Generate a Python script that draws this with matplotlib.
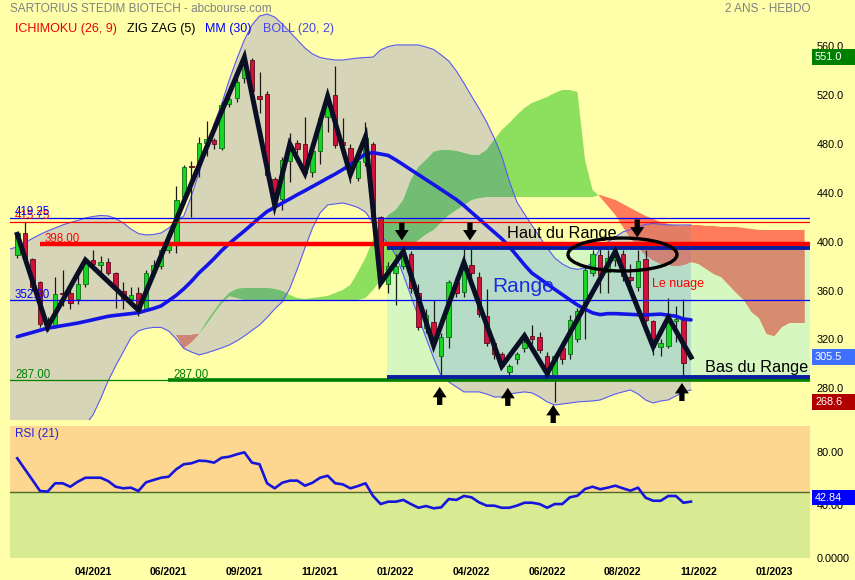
import numpy as np
import matplotlib
matplotlib.use("Agg")
import matplotlib.pyplot as plt
from matplotlib.patches import Rectangle, Ellipse
from matplotlib.transforms import blended_transform_factory

plt.rcParams['font.family'] = ['Liberation Sans', 'DejaVu Sans']

# ---- weekly candles (bar 0 = first visible week) ----
opens = [389, 407, 386, 367, 333, 330, 358, 358, 353, 365,
         385, 381, 383, 374, 360, 353, 358, 344, 375, 380,
         393, 400, 437, 462, 464, 481, 483, 477, 513, 518,
         534, 549, 519, 521, 451, 435, 466, 481, 480, 457,
         474, 502, 520, 482, 477, 452, 465, 480, 420, 365,
         374, 380, 390, 358, 329, 334, 306, 322, 367, 359,
         381, 371, 339, 317, 308, 293, 304, 313, 323, 322,
         306, 291, 313, 308, 320, 347, 374, 389, 375, 385,
         390, 371, 363, 386, 335, 314, 315, 335, 336, 305]
highs = [408, 416, 387, 368, 338, 371, 377, 363, 377, 386,
         393, 388, 387, 375, 367, 363, 363, 377, 385, 395,
         399, 446, 463, 466, 486, 499, 485, 514, 524, 535,
         551, 550, 539, 523, 453, 469, 489, 483, 502, 476,
         506, 519, 544, 501, 480, 468, 498, 482, 421, 383,
         390, 393, 392, 365, 345, 352, 325, 369, 372, 396,
         396, 375, 361, 320, 310, 300, 310, 324, 332, 326,
         310, 308, 318, 340, 346, 380, 393, 394, 393, 393,
         393, 382, 393, 393, 336, 320, 354, 347, 353, 306]
lows = [387, 386, 360, 330, 327, 329, 347, 345, 349, 363,
        377, 371, 373, 346, 345, 350, 339, 343, 372, 378,
        391, 391, 435, 420, 453, 470, 476, 475, 510, 514,
        530, 520, 505, 452, 429, 426, 449, 473, 455, 453,
        464, 490, 477, 472, 448, 450, 462, 415, 366, 358,
        348, 378, 358, 328, 325, 315, 291, 313, 355, 355,
        370, 338, 315, 304, 297, 289, 300, 310, 316, 309,
        291, 268.6, 300, 304, 318, 320, 372, 358, 358, 380,
        368, 366, 360, 334, 307, 306, 313, 318, 291, 305]
closes = [407, 387, 363, 333, 330, 357, 357, 350, 365, 384,
          382, 383, 374, 363, 353, 356, 344, 374, 381, 393,
          397, 434, 461, 461, 481, 484, 480, 512, 517, 531,
          546, 523, 517, 455, 437, 467, 476, 476, 456, 474,
          501, 512, 479, 479, 459, 466, 485, 420, 368, 380,
          380, 389, 362, 330, 340, 318, 322, 367, 358, 378,
          374, 341, 317, 308, 298, 298, 308, 318, 320, 311,
          292, 306, 304, 336, 343, 377, 390, 373, 387, 389,
          372, 369, 384, 336, 314, 317, 337, 337, 301, 305.5]

# moving average 30
mm30 = [322.2, 324.0, 325.7, 327.5, 329.2, 330.2, 331.3, 332.3, 333.4, 334.7,
        336.1, 337.5, 338.9, 339.7, 340.4, 341.1, 341.9, 343.6, 345.3, 347.4,
        351.7, 356.1, 361.4, 367.5, 374.4, 380.1, 386.2, 392.7, 398.5, 403.7,
        408.8, 414.2, 419.6, 424.7, 428.2, 431.6, 435.0, 438.5, 441.8, 445.2,
        448.6, 452.1, 455.4, 459.1, 463.0, 467.5, 471.8, 472.9, 471.8, 470.6,
        467.0, 463.0, 458.9, 454.9, 450.8, 446.8, 442.7, 438.6, 434.5, 429.6,
        424.1, 418.7, 413.2, 407.8, 402.4, 395.9, 388.5, 381.0, 374.2, 369.9,
        365.4, 361.0, 356.7, 352.4, 348.2, 344.8, 341.7, 340.3, 341.1, 341.1,
        340.8, 340.5, 340.2, 340.0, 340.4, 340.7, 339.8, 339.0, 336.7, 336.0]

# bollinger (20, 2), starts one bar before the first candle
boll_up = [394.0, 395.7, 399.4, 402.6, 405.9, 408.8, 411.2, 413.7, 415.7, 417.4, 419.4,
           420.6, 421.5, 421.1, 419.0, 415.3, 410.4, 406.7, 405.5, 405.9, 407.1,
           411.2, 417.0, 421.1, 437.4, 456.3, 475.1, 496.4, 512.8, 532.4, 549.6,
           565.2, 577.4, 584.8, 586.4, 584.0, 578.3, 571.7, 565.2, 558.6, 553.7,
           550.8, 549.6, 548.8, 548.8, 549.6, 550.4, 550.8, 551.2, 557.0, 559.8,
           561.1, 561.1, 561.1, 561.1, 559.4, 557.4, 552.9, 548.0, 539.8, 529.9,
           519.3, 509.1, 498.0, 484.9, 470.2, 449.7, 432.5, 422.7, 413.3, 403.9,
           394.9, 386.7, 381.8, 378.5, 377.3, 378.5, 383.4, 394.9, 399.8, 403.9,
           408.0, 410.0, 412.1, 414.1, 414.9, 414.3, 413.7, 413.7, 413.7, 413.7]
boll_low = [237.7, 237.7, 237.7, 237.7, 239.3, 241.0, 242.6, 244.2, 245.9, 247.5, 250.0,
            258.1, 271.2, 286.0, 298.3, 309.7, 321.2, 326.9, 328.9, 329.8, 329.8,
            326.9, 320.4, 312.6, 309.7, 307.3, 308.9, 310.9, 313.0, 315.4, 318.7,
            322.8, 327.3, 331.8, 337.9, 344.9, 350.7, 361.7, 377.7, 394.9, 411.2,
            423.5, 430.1, 430.9, 431.7, 430.1, 428.0, 424.3, 415.3, 405.1, 398.5,
            389.1, 372.8, 355.6, 338.4, 321.2, 304.8, 290.1, 285.2, 281.1, 277.0,
            277.0, 277.0, 275.3, 272.9, 272.9, 275.3, 276.2, 277.0, 276.2, 272.9,
            268.8, 266.3, 267.1, 267.9, 268.8, 269.2, 269.6, 270.4, 272.9, 275.3,
            277.0, 278.6, 275.3, 270.4, 267.9, 269.6, 270.4, 273.7, 277.0, 278.6]

# ichimoku cloud (already shifted), bars 20..104
senkou_a = [323.6, 323.6, 313.0, 317.9, 324.5, 334.3, 343.3, 351.5, 358.0, 361.3,
            362.1, 362.1, 362.1, 362.1, 361.3, 359.7, 356.4, 353.9, 353.1, 353.9,
            354.7, 355.6, 358.0, 360.5, 364.6, 375.2, 386.7, 401.4, 413.7, 421.9,
            426.0, 434.2, 450.5, 461.2, 466.9, 473.5, 475.1, 475.1, 474.3, 472.6,
            471.0, 471.0, 475.1, 483.3, 491.5, 497.2, 503.7, 509.5, 513.6, 516.0,
            518.5, 521.8, 524.2, 524.2, 522.6, 466.9, 442.3, 436.6, 429.2, 421.9,
            412.1, 403.1, 395.7, 389.1, 385.0, 381.8, 381.0, 380.1, 381.0, 383.4,
            381.8, 377.7, 373.6, 371.1, 364.6, 358.0, 352.3, 342.5, 337.5, 324.5,
            322.8, 330.2, 333.5, 333.5, 333.5]
senkou_b = [323.6, 323.6, 323.6, 323.6, 324.5, 332.5, 341.5, 349.5, 355.5, 354.0,
            352.3, 352.3, 352.3, 352.3, 352.3, 352.3, 352.3, 352.3, 352.3, 352.3,
            352.3, 352.3, 352.3, 352.3, 352.3, 352.3, 353.9, 360.5, 368.6, 380.1,
            386.7, 391.6, 397.3, 401.4, 406.3, 409.6, 416.1, 421.9, 426.0, 430.1,
            434.2, 435.8, 436.6, 436.6, 436.6, 436.6, 436.6, 436.6, 436.6, 436.6,
            436.6, 436.6, 436.6, 436.6, 436.6, 436.6, 436.6, 438.3, 436.2, 434.2,
            430.9, 427.6, 424.3, 421.1, 418.6, 416.1, 414.5, 413.3, 412.9, 413.7,
            413.7, 412.9, 412.9, 412.1, 412.1, 412.1, 411.2, 410.4, 409.6, 409.6,
            409.6, 409.6, 409.6, 409.6, 409.6]

# zig zag (5) pivots
zz_bars = [0, 4, 9, 16, 30, 34, 36, 38, 41, 44, 46, 48, 51, 55, 59, 64, 67, 70, 79, 84, 86, 89]
zz_vals = [406, 330, 385, 344, 551, 430, 480, 456, 519, 455, 486, 366, 392, 315, 383, 298, 323, 292,
           392, 314, 338, 305.5]

# RSI (21)
rsi = [75.6, 67.4, 59.2, 50.9, 50.4, 56.7, 56.7, 54.1, 57.9, 60.9,
       60.9, 60.9, 58.4, 54.1, 52.9, 53.4, 50.9, 57.4, 59.2, 60.9,
       61.7, 67.3, 71.1, 71.8, 73.8, 73.5, 72.3, 76.0, 76.8, 78.6,
       80.1, 72.3, 71.1, 56.7, 52.9, 57.1, 58.7, 58.7, 54.9, 57.1,
       60.9, 62.4, 56.7, 55.9, 52.9, 54.6, 56.7, 47.1, 41.0, 42.8,
       42.8, 44.1, 41.0, 38.2, 39.5, 37.8, 38.5, 44.8, 44.1, 47.1,
       46.1, 42.3, 39.8, 39.8, 38.2, 38.2, 39.8, 42.0, 42.0, 41.0,
       38.2, 41.0, 41.0, 46.1, 47.3, 52.4, 54.1, 52.2, 53.4, 54.9,
       52.9, 51.1, 53.4, 45.8, 43.5, 43.5, 47.1, 47.1, 42.0, 42.84]

tick_bars = [10, 20, 30, 40, 50, 60, 70, 80, 90, 100]
tick_labels = ['04/2021', '06/2021', '09/2021', '11/2021', '01/2022',
               '04/2022', '06/2022', '08/2022', '11/2022', '01/2023']

# drawn levels
lvl_blue = [419.25, 352.30]
lvl_red_thin = 415.75
lvl_red = 398.00
lvl_green = 287.00
range_top = 395.0
range_bot = 289.5
range_start = 48.8

BG = '#FFFFAA'
TAN = '#D7D5B7'
BOX = '#D6F8C0'
BOX_BAND = '#B6DCC7'

bars = np.arange(len(opens))
band_bars = np.arange(-1, len(opens))
cloud_bars = np.arange(20, 20 + len(senkou_a))
o = np.array(opens); c = np.array(closes)
A = np.array(senkou_a); B = np.array(senkou_b)

fig = plt.figure(figsize=(8.55, 5.8), dpi=100, facecolor=BG)
ax = fig.add_axes([10/855, 160/580, 800/855, 420/580], facecolor=BG)
rs = fig.add_axes([10/855, 21.7/580, 800/855, 132.3/580], facecolor=BG)
XL = (-0.96, 104.72)

ax.set_xlim(*XL)
ax.set_ylim(254.0, 597.9)

# bollinger band
band = ax.fill_between(band_bars, boll_low, boll_up, facecolor=TAN, edgecolor='none', zorder=1)
band_path = band.get_paths()[0]
ax.plot(band_bars, boll_up, color='#5a5aee', lw=0.8, zorder=3)
ax.plot(band_bars, boll_low, color='#5a5aee', lw=0.8, zorder=3)

# range box
box = Rectangle((range_start, range_bot), 80, range_top - range_bot, facecolor=BOX, edgecolor='none', zorder=1.2)
ax.add_patch(box)
box2 = Rectangle((range_start, range_bot), 80, range_top - range_bot, facecolor=BOX_BAND, edgecolor='none', zorder=1.3)
ax.add_patch(box2)
box2.set_clip_path(band_path, ax.transData)

# ichimoku cloud
up = A >= B
ax.fill_between(cloud_bars, A, B, where=up, interpolate=True, color='#8DE05E', lw=0, zorder=2)
g2 = ax.fill_between(cloud_bars, A, B, where=up, interpolate=True, color='#72BD73', lw=0, zorder=2.1)
g2.set_clip_path(band_path, ax.transData)
ax.fill_between(cloud_bars, A, B, where=~up, interpolate=True, color='#FF7B59', lw=0, zorder=2)
r2 = ax.fill_between(cloud_bars, A, B, where=~up, interpolate=True, color='#E37D66', lw=0, zorder=2.1)
r2.set_clip_path(band_path, ax.transData)
r3 = ax.fill_between(cloud_bars, A, B, where=~up, interpolate=True, color='#D88C6F', lw=0, zorder=2.2)
r3.set_clip_path(box)
r4 = ax.fill_between(cloud_bars, np.clip(A, range_bot, range_top), np.clip(B, range_bot, range_top),
                     where=~up, interpolate=True, color='#CF8478', lw=0, zorder=2.3)
r4.set_clip_path(band_path, ax.transData)

# candles
ax.vlines(bars, lows, highs, color='#1a1a1a', lw=0.9, zorder=4)
rising = c >= o
ax.bar(bars, np.maximum(np.abs(c - o), 0.8), bottom=np.minimum(o, c), width=0.6,
       color=np.where(rising, '#18D424', '#CE123C'), edgecolor=np.where(rising, '#0c6a12', '#5a0a1a'),
       lw=0.6, zorder=4.2)

# moving average
ax.plot(bars, mm30, color='#1414E6', lw=2.6, zorder=4.5, solid_capstyle='round')

# levels
for v in lvl_blue:
    ax.axhline(v, color='#0000FF', lw=0.9, zorder=5)
ax.axhline(lvl_red_thin, color='#FF0000', lw=0.9, zorder=5)
ax.hlines(lvl_red, 3.0, XL[1], color='#FF0000', lw=3.2, zorder=5.2)
ax.axhline(lvl_green, color='#008000', lw=0.9, zorder=5)
ax.hlines(lvl_green, 19.9, XL[1], color='#008000', lw=2.6, zorder=5)
ax.hlines([range_top, range_bot], range_start, XL[1], color='#0A1EA0', lw=2.8, zorder=5.3)

# zig zag
ax.plot(zz_bars, zz_vals, color='#0B0F26', lw=3.6, zorder=6, solid_joinstyle='miter')

# annotations
ax.add_patch(Ellipse((79.95, 389.5), 14.4, 27, fill=False, ec='black', lw=2.4, zorder=7))


def block_arrow(x, y, down):
    ax.annotate('', xy=(x, y), xytext=(0, 13 if down else -13), textcoords='offset points',
                arrowprops=dict(arrowstyle='simple,head_length=0.75,head_width=1.0,tail_width=0.38',
                                fc='black', ec='black', lw=0, shrinkA=0, shrinkB=0, mutation_scale=10),
                zorder=8)


for x, y in [(50.8, 401.0), (59.8, 401.0), (81.9, 403.4)]:
    block_arrow(x, y, True)
for x, y in [(55.8, 281.1), (64.8, 280.3), (70.8, 266.3), (87.8, 284.3)]:
    block_arrow(x, y, False)

ax.text(64.7, 402.8, 'Haut du Range', fontsize=11.7, color='black', va='baseline', zorder=8)
ax.text(90.85, 293.6, 'Bas du Range', fontsize=11.7, color='black', va='baseline', zorder=8)
ax.text(62.8, 358.8, 'Range', fontsize=15, color='#1A2EE0', va='baseline', zorder=8)
ax.text(83.85, 362.9, 'Le nuage', fontsize=9, color='#FF0000', va='baseline', zorder=8)

ax.text(-0.3, 421.9, '419.25', fontsize=8.3, color='#0000FF', va='baseline', zorder=7)
ax.text(-0.3, 418.4, '415.75', fontsize=8.3, color='#FF0000', va='baseline', zorder=6.9)
ax.text(3.66, 400.0, '398.00', fontsize=8.3, color='#FF0000', va='baseline', zorder=5.1)
ax.text(-0.3, 353.7, '352.30', fontsize=8.3, color='#0000FF', va='baseline', zorder=7)
ax.text(-0.3, 288.7, '287.00', fontsize=8.3, color='#008000', va='baseline', zorder=7)
ax.text(20.6, 288.7, '287.00', fontsize=8.3, color='#008000', va='baseline', zorder=7)

# right price axis
ax.yaxis.tick_right()
ax.set_yticks([280, 320, 360, 400, 440, 480, 520, 560])
ax.set_yticklabels([f'{v:.1f}' for v in [280, 320, 360, 400, 440, 480, 520, 560]])
ax.tick_params(axis='y', length=0, pad=5, labelsize=7.8)
ax.set_xticks([])
for s in ax.spines.values():
    s.set_visible(False)

tr = blended_transform_factory(ax.transAxes, ax.transData)
for val, col in [(551.0, '#008000'), (closes[-1], '#3F6FFF'), (min(lows), '#B00000')]:
    ax.add_patch(Rectangle((1.0025, val - 6.6), 43/800, 13.2, transform=tr, facecolor=col,
                           edgecolor='none', clip_on=False, zorder=9))
    ax.text(1.00625, val, f'{val:.1f}', transform=tr, color='white', fontsize=7.8,
            va='center', ha='left', zorder=10)

# headers
fig.text(10/855, 1 - 12.3/580, 'SARTORIUS STEDIM BIOTECH - abcbourse.com', color='#808080', fontsize=8.5)
fig.text(810/855, 1 - 12.3/580, '2 ANS - HEBDO', color='#808080', fontsize=8.5, ha='right')
for x, txt, col in [(15, 'ICHIMOKU (26, 9)', '#EE0000'), (127, 'ZIG ZAG (5)', 'black'),
                    (205, 'MM (30)', '#0000FF'), (263, 'BOLL (20, 2)', '#4646E6')]:
    fig.text(x/855, 1 - 32/580, txt, color=col, fontsize=9)

# RSI panel
rs.set_xlim(*XL)
rs.set_ylim(0, 100)
rs.axhspan(50, 100, facecolor='#FDD78F', edgecolor='none', zorder=0)
rs.axhspan(0, 50, facecolor='#D8EB93', edgecolor='none', zorder=0)
rs.axhline(50, color='#4A6B2A', lw=1, zorder=1)
rs.plot(bars, rsi, color='#1515DD', lw=1.9, zorder=3)
rs.text(5/800, 0.94, 'RSI (21)', transform=rs.transAxes, color='#2222DD', fontsize=8.5, va='center')
rs.yaxis.tick_right()
rs.set_yticks([0, 40, 80])
rs.set_yticklabels(['0.0000', '40.00', '80.00'])
rs.tick_params(axis='y', length=0, pad=5, labelsize=7.8)
rs.set_xticks(tick_bars)
rs.set_xticklabels(tick_labels, fontweight='bold')
rs.tick_params(axis='x', length=0, pad=6, labelsize=7.5)
for s in rs.spines.values():
    s.set_visible(False)
trr = blended_transform_factory(rs.transAxes, rs.transData)
rsi_box_y = rsi[-1] + 3.0
rs.add_patch(Rectangle((1.0025, rsi_box_y - 5.7), 43/800, 11.4, transform=trr, facecolor='#0000FF',
                       edgecolor='none', clip_on=False, zorder=9))
rs.text(1.00625, rsi_box_y, f'{rsi[-1]:.2f}', transform=trr, color='white', fontsize=7.8,
        va='center', ha='left', zorder=10)

fig.savefig('out.png', dpi=100, facecolor=BG)
